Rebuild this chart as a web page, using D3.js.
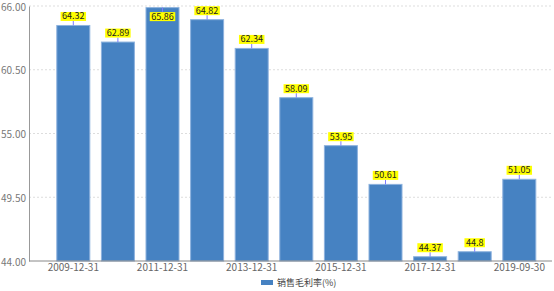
<!DOCTYPE html>
<html lang="zh">
<head>
  <meta charset="UTF-8">
  <title>销售毛利率</title>
  <style>
    body { margin: 0; background: #fff; }
    text { font-family: "Noto Sans CJK SC", "DejaVu Sans", sans-serif; }
  </style>
</head>
<body>
  <script src="https://cdn.jsdelivr.net/npm/d3@7/dist/d3.min.js"></script>
  <script>
    const width = 554, height = 291

    const dates = ["2009-12-31", "2010-12-31", "2011-12-31", "2012-12-31", "2013-12-31",
      "2014-12-31", "2015-12-31", "2016-12-31", "2017-12-31", "2018-12-31", "2019-09-30"]
    const margin = [64.32, 62.89, 65.86, 64.82, 62.34, 58.09, 53.95, 50.61, 44.37, 44.8, 51.05]
    const yTicks = [44, 49.5, 55, 60.5, 66]
    const seriesName = "销售毛利率(%)"

    const svg = d3.select("body").append("svg")
      .attr("width", width)
      .attr("height", height)

    const x = d3.scaleBand().domain(dates).range([51, 541.6]).paddingInner(0.26).paddingOuter(0.13)
    const y = d3.scaleLinear().domain([44, 66]).range([261, 6])

    // grid
    svg.append("g").selectAll("line")
      .data(yTicks.slice(1))
      .enter().append("line")
      .attr("x1", 29).attr("x2", 552)
      .attr("y1", d => y(d)).attr("y2", d => y(d))
      .attr("stroke", "#ddd")
      .attr("stroke-dasharray", "2,2")

    // y axis
    const yAxis = svg.append("g")
      .attr("transform", "translate(29,0)")
      .call(d3.axisLeft(y).tickValues(yTicks).tickFormat(d3.format(".2f")).tickSize(0).tickPadding(3))
    yAxis.select(".domain").attr("stroke", "#999")
    yAxis.selectAll("text").attr("fill", "#777").attr("font-size", 10).attr("dy", "0.42em")

    // bars
    svg.append("g").selectAll("rect")
      .data(margin)
      .enter().append("rect")
      .attr("x", (d, i) => x(dates[i]))
      .attr("y", d => y(d))
      .attr("width", x.bandwidth())
      .attr("height", d => y(44) - y(d))
      .attr("fill", "#4682c2")
      .attr("stroke", "#8db2de")
      .attr("stroke-width", 1)

    // x axis
    const xAxis = svg.append("g")
      .attr("transform", "translate(0,261)")
      .call(d3.axisBottom(x).tickValues(dates.filter((d, i) => i % 2 === 0)).tickSize(0).tickPadding(3))
    xAxis.select(".domain").remove()
    xAxis.selectAll("text").attr("fill", "#666").attr("font-size", 10)
    svg.append("line")
      .attr("x1", 29).attr("x2", 552)
      .attr("y1", 261).attr("y2", 261)
      .attr("stroke", "#888")

    // value labels
    const lab = svg.append("g").selectAll("g")
      .data(margin)
      .enter().append("g")
      .attr("transform", (d, i) => "translate(" + (x(dates[i]) + x.bandwidth() / 2) + "," + y(d) + ")")

    lab.each(function (d) {
      const g = d3.select(this)
      const top = y(d)
      const inside = top - 13.5 < 6
      const boxTop = inside ? 4.5 : -13.5
      const txt = String(d)
      g.append("line")
        .attr("x1", 0).attr("x2", 0)
        .attr("y1", inside ? 0 : -4.5).attr("y2", inside ? 4.5 : 0)
        .attr("stroke", "#7b7bff")
      const t = g.append("text")
        .attr("text-anchor", "middle")
        .attr("y", boxTop + 7.5)
        .attr("font-size", 9)
        .attr("fill", "#222")
        .text(txt)
      const w = t.node().getComputedTextLength()
      g.insert("rect", "text")
        .attr("x", -w / 2 - 1.5)
        .attr("y", boxTop)
        .attr("width", w + 3)
        .attr("height", 9)
        .attr("fill", "#ffff00")
    })

    // legend
    const lg = svg.append("g").attr("transform", "translate(261,280)")
    lg.append("rect").attr("width", 12).attr("height", 5).attr("fill", "#4682c2")
    lg.append("text").attr("x", 16).attr("y", 6).attr("font-size", 9).attr("fill", "#444").text(seriesName)
  </script>
</body>
</html>
